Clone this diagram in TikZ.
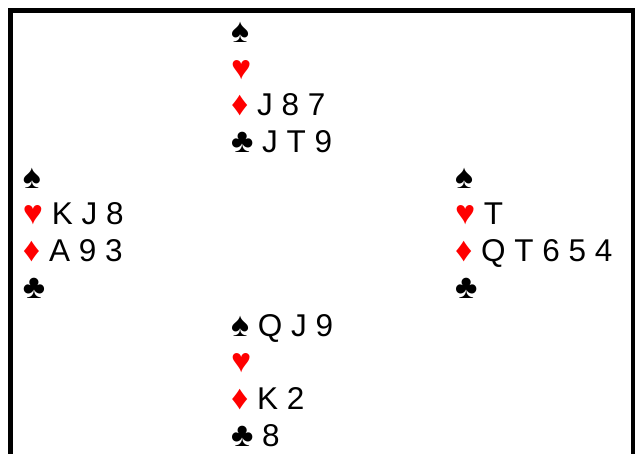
\documentclass[tikz,border=0pt]{standalone}
\usepackage{fontspec}
\setmainfont{Liberation Sans}
\definecolor{suitred}{HTML}{FF0000}
\newcommand{\suitsz}{\fontsize{34}{36}\selectfont}
\newcommand{\Sp}{{\suitsz ♠}}
\newcommand{\Hz}{{\suitsz\color{suitred}♥}}
\newcommand{\Dm}{{\suitsz\color{suitred}♦}}
\newcommand{\Cl}{{\suitsz ♣}}
\tikzset{
  handrow/.style={anchor=base west, inner sep=0pt, outer sep=0pt,
    font=\fontsize{31.5}{36}\selectfont, text=black},
  frameline/.style={draw=black, line width=5pt}
}
\begin{document}
\begin{tikzpicture}[x=1pt,y=-1pt]
\useasboundingbox (0,0) rectangle (635,454);
\clip (0,0) rectangle (635,454);
\fill[white] (0,0) rectangle (635,454);
\draw[frameline] (10.5,10.5) rectangle (633.5,480);
% North
\node[handrow] (n1) at (231,42.5) {\Sp};
\node[handrow] (n2) at (231,79.2) {\Hz};
\node[handrow] (n3) at (231,115.9) {\Dm\ J 8 7};
\node[handrow] (n4) at (231,152.6) {\Cl\ J T 9};
% West
\node[handrow] (w1) at (23,188.3) {\Sp};
\node[handrow] (w2) at (23,225.0) {\Hz\ K J 8};
\node[handrow] (w3) at (23,261.7) {\Dm\ A 9 3};
\node[handrow] (w4) at (23,298.4) {\Cl};
% East
\node[handrow] (e1) at (455,188.3) {\Sp};
\node[handrow] (e2) at (455,225.0) {\Hz\ T};
\node[handrow] (e3) at (455,261.7) {\Dm\ Q T 6 5 4};
\node[handrow] (e4) at (455,298.4) {\Cl};
% South
\node[handrow] (s1) at (231,336.3) {\Sp\ Q J 9};
\node[handrow] (s2) at (231,373.0) {\Hz};
\node[handrow] (s3) at (231,409.7) {\Dm\ K 2};
\node[handrow] (s4) at (231,446.4) {\Cl\ 8};
\end{tikzpicture}
\end{document}
